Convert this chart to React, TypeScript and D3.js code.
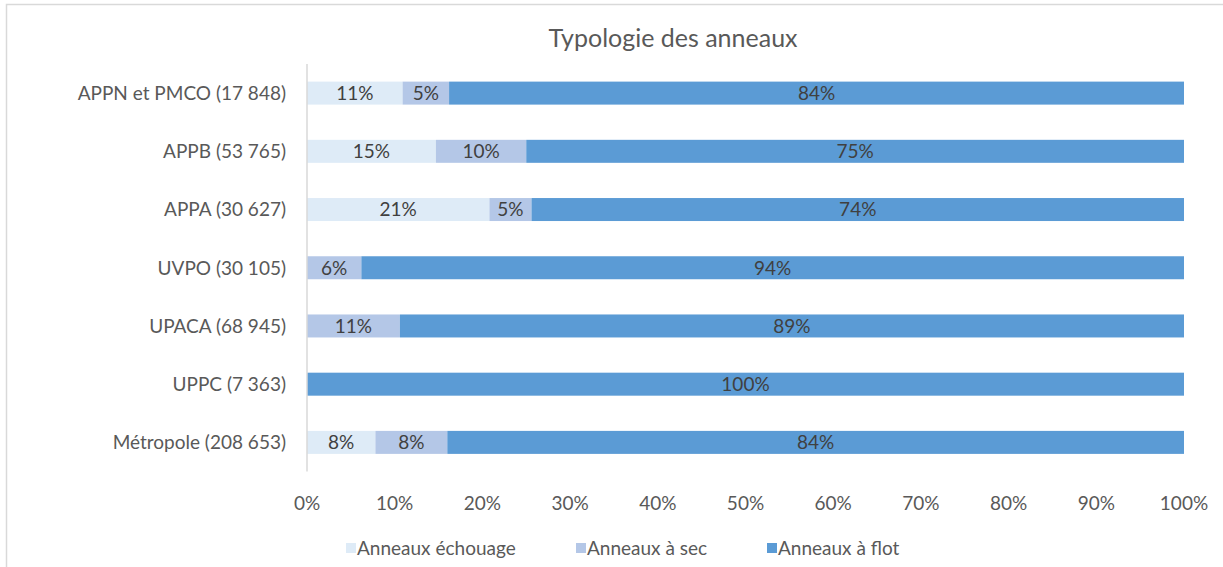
import React, { useEffect, useRef } from "react";
import * as d3 from "d3";

// Categories top to bottom, share of each ring type (in %)
const categories = [
  "APPN et PMCO (17 848)",
  "APPB (53 765)",
  "APPA (30 627)",
  "UVPO (30 105)",
  "UPACA (68 945)",
  "UPPC (7 363)",
  "Métropole (208 653)",
];
const echouage = [10.9, 14.7, 20.8, 0, 0, 0, 7.8];
const aSec = [5.3, 10.3, 4.8, 6.2, 10.6, 0, 8.2];
const aFlot = [83.8, 75.0, 74.4, 93.8, 89.4, 100, 84.0];

const seriesNames = ["Anneaux échouage", "Anneaux à sec", "Anneaux à flot"];
const seriesColors = ["#DEEBF7", "#B4C7E7", "#5B9BD5"];
const xTicks = [0, 10, 20, 30, 40, 50, 60, 70, 80, 90, 100];

const W = 1223;
const H = 567;
const FONT = "Lato, 'Liberation Sans', sans-serif";

const App: React.FC = () => {
  const ref = useRef<SVGSVGElement | null>(null);

  useEffect(() => {
    const svg = d3.select(ref.current);
    svg.selectAll("*").remove();

    // chart frame
    svg
      .append("rect")
      .attr("x", 6.5)
      .attr("y", 4.5)
      .attr("width", W)
      .attr("height", H)
      .attr("fill", "#fff")
      .attr("stroke", "#d9d9d9")
      .attr("stroke-width", 1.5);

    const x = d3.scaleLinear().domain([0, 100]).range([307, 1184]);
    const y = d3
      .scaleBand()
      .domain(categories)
      .range([64, 471.5])
      .paddingInner(0.605)
      .paddingOuter(0.3025);

    // title
    svg
      .append("text")
      .attr("x", 673)
      .attr("y", 47)
      .attr("text-anchor", "middle")
      .style("font-family", FONT)
      .style("font-size", "25px")
      .style("fill", "#595959")
      .text("Typologie des anneaux");

    const rows = categories.map((c, i) => ({
      cat: c,
      vals: [echouage[i], aSec[i], aFlot[i]],
    }));

    // bars
    rows.forEach((r) => {
      let acc = 0;
      r.vals.forEach((v, s) => {
        const x0 = x(acc);
        const x1 = x(acc + v);
        acc += v;
        if (v <= 0) return;
        svg
          .append("rect")
          .attr("x", x0)
          .attr("y", y(r.cat) ?? 0)
          .attr("width", x1 - x0)
          .attr("height", y.bandwidth())
          .attr("fill", seriesColors[s]);
        svg
          .append("text")
          .attr("x", (x0 + x1) / 2)
          .attr("y", (y(r.cat) ?? 0) + y.bandwidth() / 2)
          .attr("dy", "0.36em")
          .attr("text-anchor", "middle")
          .style("font-family", FONT)
          .style("font-size", "19px")
          .style("fill", "#404040")
          .text(`${Math.round(v)}%`);
      });
    });

    // category axis
    svg
      .append("line")
      .attr("x1", 307)
      .attr("x2", 307)
      .attr("y1", y.range()[0])
      .attr("y2", y.range()[1])
      .attr("stroke", "#d9d9d9")
      .attr("stroke-width", 1.5);

    svg
      .selectAll(".cat")
      .data(categories)
      .enter()
      .append("text")
      .attr("class", "cat")
      .attr("x", 286)
      .attr("y", (d) => (y(d) ?? 0) + y.bandwidth() / 2)
      .attr("dy", "0.36em")
      .attr("text-anchor", "end")
      .style("font-family", FONT)
      .style("font-size", "19px")
      .style("fill", "#595959")
      .text((d) => d);

    // value axis labels
    svg
      .selectAll(".tick")
      .data(xTicks)
      .enter()
      .append("text")
      .attr("class", "tick")
      .attr("x", (d) => x(d))
      .attr("y", 503)
      .attr("dy", "0.36em")
      .attr("text-anchor", "middle")
      .style("font-family", FONT)
      .style("font-size", "19px")
      .style("fill", "#595959")
      .text((d) => `${d}%`);

    // legend
    const legendX = [346, 576, 767];
    seriesNames.forEach((name, i) => {
      svg
        .append("rect")
        .attr("x", legendX[i])
        .attr("y", 543)
        .attr("width", 10)
        .attr("height", 10)
        .attr("fill", seriesColors[i]);
      svg
        .append("text")
        .attr("x", legendX[i] + 11)
        .attr("y", 548)
        .attr("dy", "0.36em")
        .style("font-family", FONT)
        .style("font-size", "19px")
        .style("fill", "#595959")
        .text(name);
    });
  }, []);

  return (
    <svg
      ref={ref}
      width={W}
      height={H}
      style={{ position: "absolute", left: 0, top: 0, display: "block" }}
    ></svg>
  );
};

export default App;
